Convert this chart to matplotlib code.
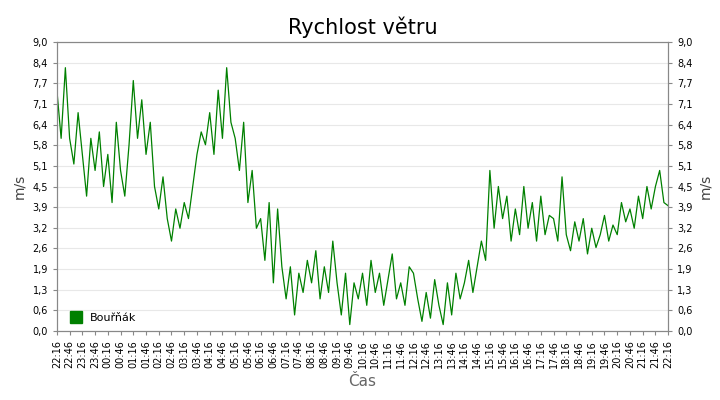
import matplotlib
matplotlib.use("Agg")
import matplotlib.pyplot as plt
import numpy as np

speed = [7.5,6.0,8.2, 6.0,5.2,6.8, 5.5,4.2,6.0, 5.0,6.2,4.5, 5.5,4.0,6.5, 5.0,4.2,5.8,
         7.8,6.0,7.2, 5.5,6.5,4.5, 3.8,4.8,3.5, 2.8,3.8,3.2, 4.0,3.5,4.5, 5.5,6.2,5.8,
         6.8,5.5,7.5, 6.0,8.2,6.5, 6.0,5.0,6.5, 4.0,5.0,3.2, 3.5,2.2,4.0, 1.5,3.8,2.0,
         1.0,2.0,0.5, 1.8,1.2,2.2, 1.5,2.5,1.0, 2.0,1.2,2.8, 1.5,0.5,1.8, 0.2,1.5,1.0,
         1.8,0.8,2.2, 1.2,1.8,0.8, 1.6,2.4,1.0, 1.5,0.8,2.0, 1.8,1.0,0.3, 1.2,0.4,1.6,
         0.8,0.2,1.5, 0.5,1.8,1.0, 1.5,2.2,1.2, 2.0,2.8,2.2, 5.0,3.2,4.5, 3.5,4.2,2.8,
         3.8,3.0,4.5, 3.2,4.0,2.8, 4.2,3.0,3.6, 3.5,2.8,4.8, 3.0,2.5,3.4, 2.8,3.5,2.4,
         3.2,2.6,3.0, 3.6,2.8,3.3, 3.0,4.0,3.4, 3.8,3.2,4.2, 3.5,4.5,3.8, 4.5,5.0,4.0, 3.9]
yticks = [0,0.6,1.3,1.9,2.6,3.2,3.9,4.5,5.1,5.8,6.4,7.1,7.7,8.4,9.0]
xlabels = []
h, m = 22, 16
for i in range(49):
    xlabels.append(f"{h:02d}:{m:02d}")
    m += 30
    if m >= 60:
        m -= 60; h = (h + 1) % 24

fig = plt.figure(figsize=(7.2, 4.0), dpi=100)
ax = fig.add_axes([0.079, 0.1725, 0.849, 0.7225])
t = np.arange(len(speed)) / 3.0  # in half-hours
green = "#008000"
ax.plot(t, speed, color=green, lw=0.9)
ax.set_xlim(0, 48)
ax.set_ylim(0, 9)
ypos = np.linspace(0, 9, 15)
ax.set_yticks(ypos)
lab = [f"{v:.1f}".replace(".", ",") for v in yticks]
ax.set_yticklabels(lab, fontsize=7)
ax.grid(axis="y", color="#e8e8e8", lw=0.8)
ax.set_axisbelow(True)
ax.set_xticks(np.arange(49))
ax.set_xticklabels(xlabels, rotation=90, fontsize=7)
ax.tick_params(length=3, color="#888888")
for s in ax.spines.values():
    s.set_color("#888888")
ax.set_ylabel("m/s", fontsize=10, color="#444444")
ax.set_xlabel("Čas", fontsize=11, color="#666666")
ax2 = ax.twinx()
ax2.set_ylim(0, 9)
ax2.set_yticks(ypos)
ax2.set_yticklabels(lab, fontsize=7)
ax2.set_ylabel("m/s", fontsize=10, color="#444444")
ax2.tick_params(length=3, color="#888888")
for s in ax2.spines.values():
    s.set_color("#888888")
ax.set_title("Rychlost větru", fontsize=15, pad=6)
ax.plot([], [], marker="s", ls="none", color=green, ms=8, label="Bouřňák")
ax.legend(loc="lower left", frameon=False, fontsize=8, handletextpad=0.3,
          borderaxespad=0.3, bbox_to_anchor=(0.0, 0.0))
fig.savefig("out.png", dpi=100)
